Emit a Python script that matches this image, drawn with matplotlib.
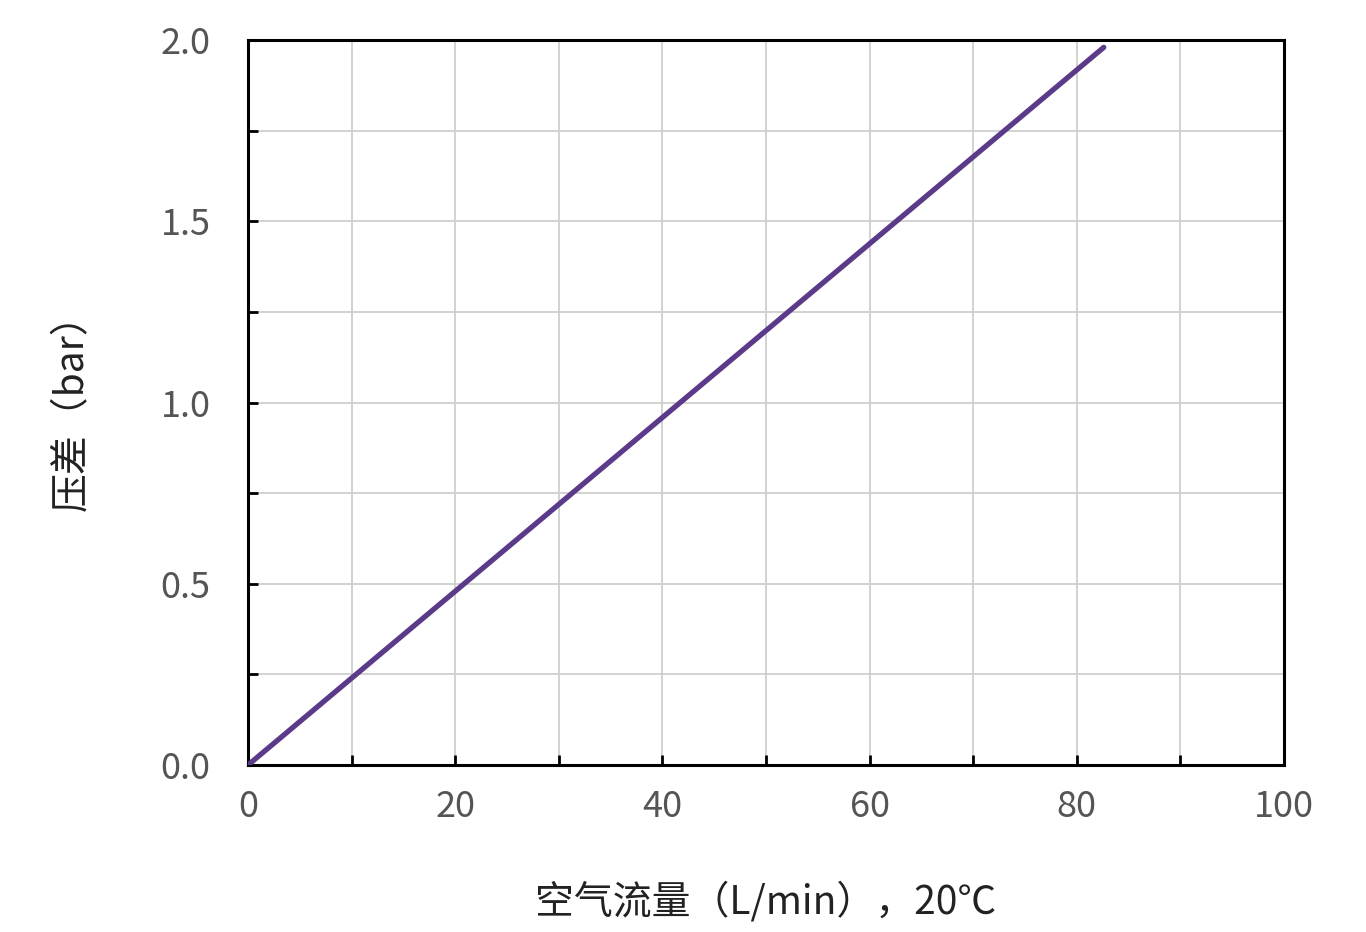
import matplotlib.pyplot as plt
import numpy as np

plt.rcParams['font.family'] = ['Noto Sans CJK SC', 'DejaVu Sans']

# air flow (L/min) vs pressure drop (bar)
flow = [0, 82.6]
dp = [0, 1.98]

fig = plt.figure(figsize=(13.66, 9.32), dpi=100)
ax = fig.add_axes([0.1816, 0.1792, 0.7584, 0.7778])

ax.plot(flow, dp, color='#5b3a8a', lw=3.8, solid_capstyle='round', zorder=3)

ax.set_xlim(0, 100)
ax.set_ylim(0, 2.0)
ax.set_xticks(np.arange(0, 101, 20))
ax.set_xticks(np.arange(10, 100, 20), minor=True)
ax.set_yticks([0, 0.5, 1.0, 1.5, 2.0])
ax.set_yticks([0.25, 0.75, 1.25, 1.75], minor=True)
ax.set_yticklabels(['0.0', '0.5', '1.0', '1.5', '2.0'])
ax.grid(True, which='both', color='#cfcfcf', lw=1.3, zorder=0)

ax.tick_params(which='both', direction='in', length=7, width=2, color='black')
ax.tick_params(axis='both', labelsize=26, labelcolor='#555555')
ax.tick_params(axis='y', pad=27)
ax.tick_params(axis='x', pad=17)
for s in ax.spines.values():
    s.set_linewidth(2.2)
    s.set_color('black')

ax.set_xlabel('空气流量（L/min），20℃', fontsize=28, color='#222222', labelpad=41)
ax.set_ylabel('压差（bar）', fontsize=28, color='#222222', labelpad=49)

fig.savefig('out.png', dpi=100)
